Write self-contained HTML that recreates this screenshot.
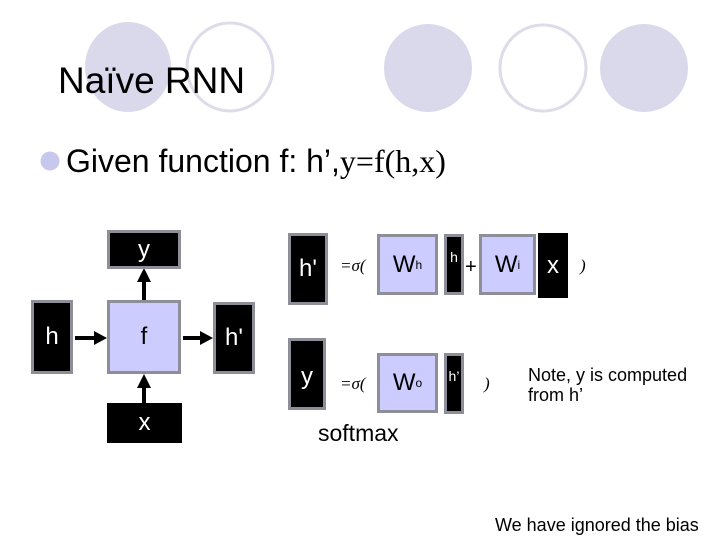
<!DOCTYPE html>
<html><head><meta charset="utf-8"><style>
body{margin:0;width:720px;height:540px;background:#fff;position:relative;overflow:hidden;font-family:"Liberation Sans",sans-serif}
.a{position:absolute}
.blk{position:absolute;background:#000;color:#fff;box-sizing:border-box;border:3px solid #8e8e98;display:flex;align-items:center;justify-content:center;font-size:24px}
.lav{position:absolute;background:#ccccff;box-sizing:border-box;border:3px solid #8e8e98;display:flex;align-items:center;justify-content:center;font-size:24px;color:#000}
.sig{position:absolute;font-family:"Liberation Serif",serif;font-style:italic;font-size:17px}
</style></head><body>
<svg class="a" style="left:0;top:0" width="720" height="540">
<ellipse cx="128" cy="67" rx="43" ry="45" fill="#d9d9eb"/>
<ellipse cx="230" cy="67" rx="43" ry="44" fill="none" stroke="#dcdcea" stroke-width="3"/>
<ellipse cx="428" cy="68" rx="44" ry="44" fill="#d9d9eb"/>
<ellipse cx="543" cy="68" rx="43" ry="43" fill="none" stroke="#dcdcea" stroke-width="3"/>
<ellipse cx="644" cy="68" rx="44" ry="44" fill="#d9d9eb"/>
<circle cx="50" cy="161" r="9.5" fill="#c8c8ee"/>
<g stroke="#000" stroke-width="4">
<line x1="144" y1="300" x2="144" y2="280"/>
<line x1="144" y1="403" x2="144" y2="386"/>
<line x1="75" y1="338" x2="95" y2="338"/>
<line x1="183" y1="338" x2="201" y2="338"/>
</g>
<g fill="#000">
<polygon points="137,282 151,282 144,268"/>
<polygon points="137,388 151,388 144,374"/>
<polygon points="94,331 94,345 107,338"/>
<polygon points="200,331 200,345 213,338"/>
</g>
</svg>
<div class="a" style="left:58px;top:60px;font-size:37px">Naïve RNN</div>
<div class="a" style="left:66px;top:143px;font-size:32px">Given function f: h’,<span style="font-family:'Liberation Serif',serif">y=f(h,x)</span></div>

<div class="blk" style="left:107px;top:230px;width:74px;height:39px">y</div>
<div class="blk" style="left:31px;top:300px;width:42px;height:74px">h</div>
<div class="lav" style="left:107px;top:300px;width:74px;height:74px">f</div>
<div class="blk" style="left:213px;top:302px;width:42px;height:72px">h'</div>
<div class="blk" style="left:107px;top:403px;width:75px;height:40px;border:none">x</div>

<div class="blk" style="left:288px;top:233px;width:40px;height:72px">h'</div>
<div class="sig" style="left:340px;top:256px">=σ(</div>
<div class="lav" style="left:377px;top:234px;width:61px;height:61px">W<sup style="font-size:12px">h</sup></div>
<div class="blk" style="left:444px;top:234px;width:20px;height:61px;font-size:14px;align-items:flex-start;padding-top:12px">h</div>
<div class="a" style="left:465px;top:256px;font-size:20px">+</div>
<div class="lav" style="left:479px;top:234px;width:57px;height:61px">W<sup style="font-size:12px">i</sup></div>
<div class="blk" style="left:538px;top:233px;width:30px;height:65px;border:none">x</div>
<div class="sig" style="left:580px;top:256px">)</div>

<div class="blk" style="left:288px;top:338px;width:38px;height:72px;align-items:flex-start;padding-top:22px">y</div>
<div class="sig" style="left:340px;top:374px">=σ(</div>
<div class="lav" style="left:377px;top:353px;width:61px;height:60px">W<span style="font-size:12px">o</span></div>
<div class="blk" style="left:444px;top:353px;width:20px;height:61px;font-size:14px;align-items:flex-start;padding-top:12px">h’</div>
<div class="sig" style="left:484px;top:374px">)</div>

<div class="a" style="left:528px;top:365px;font-size:18px;line-height:20px">Note, y is computed<br>from h’</div>
<div class="a" style="left:318px;top:420px;font-size:23px">softmax</div>
<div class="a" style="left:495px;top:515px;font-size:18px">We have ignored the bias</div>
</body></html>
